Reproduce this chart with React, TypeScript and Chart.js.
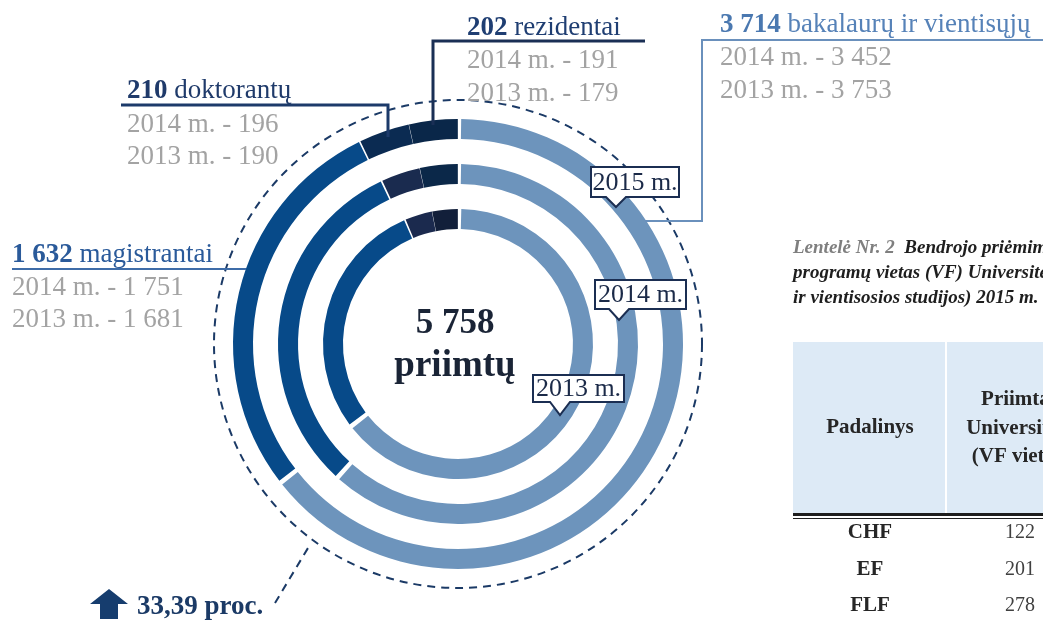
import React, { useEffect, useRef } from 'react';
import { Chart, registerables } from 'chart.js';

Chart.register(...registerables);

// ---- data ----
const categories = ['bakalaurų ir vientisųjų', 'magistrantai', 'doktorantų', 'rezidentai'];
const years = ['2015 m.', '2014 m.', '2013 m.'];
const values2015 = [3714, 1632, 210, 202];
const values2014 = [3452, 1751, 196, 191];
const values2013 = [3753, 1681, 190, 179];
const centerLabel = 'priimtų';
const growthLabel = '33,39 proc.';
const captionLines = [
  'Bendrojo priėmimo metu priimtųjų į valstybės finansuojamų studijų',
  'programų vietas (VF) Universiteto padaliniuose (pirmosios pakopos',
  'ir vientisosios studijos) 2015 m.',
];
const tableHeader = ['Padalinys', ['Priimta į', 'Universitetą', '(VF vietos)']];
const tableRows = ['CHF', 'EF', 'FLF'];
const tableValues = [122, 201, 278];

// ---- styles ----
const ringColors = [
  ['#6D94BC', '#074A89', '#0B2B52', '#0A2749'],
  ['#6D94BC', '#074A89', '#1A2B4F', '#0B2849'],
  ['#6D94BC', '#074A89', '#1B2A4E', '#121F3A'],
];
const SERIF = '"Liberation Serif", "DejaVu Serif", serif';
const GRAY = '#A3A3A3';

const fmt = (n: number) => n.toString().replace(/\B(?=(\d{3})+(?!\d))/g, ' ');
const sum = (a: number[]) => a.reduce((s, v) => s + v, 0);

type Run = { text: string; font: string; color: string };
function drawRuns(ctx: CanvasRenderingContext2D, x: number, y: number, runs: Run[]) {
  let cx = x;
  ctx.textAlign = 'left';
  ctx.textBaseline = 'alphabetic';
  for (const r of runs) {
    ctx.font = r.font;
    ctx.fillStyle = r.color;
    ctx.fillText(r.text, cx, y);
    cx += ctx.measureText(r.text).width;
  }
}

function line(ctx: CanvasRenderingContext2D, pts: number[][], color: string, w: number, dash: number[] = []) {
  ctx.save();
  ctx.strokeStyle = color;
  ctx.lineWidth = w;
  ctx.setLineDash(dash);
  ctx.beginPath();
  pts.forEach((p, i) => (i ? ctx.lineTo(p[0], p[1]) : ctx.moveTo(p[0], p[1])));
  ctx.stroke();
  ctx.restore();
}

function callout(ctx: CanvasRenderingContext2D, x0: number, y0: number, x1: number, y1: number, tx: number, ty: number, label: string) {
  ctx.save();
  ctx.beginPath();
  ctx.moveTo(x0, y0);
  ctx.lineTo(x1, y0);
  ctx.lineTo(x1, y1);
  ctx.lineTo(tx + 10, y1);
  ctx.lineTo(tx, ty);
  ctx.lineTo(tx - 10, y1);
  ctx.lineTo(x0, y1);
  ctx.closePath();
  ctx.fillStyle = '#FFFFFF';
  ctx.fill();
  ctx.strokeStyle = '#1B2E52';
  ctx.lineWidth = 2;
  ctx.stroke();
  ctx.font = `26px ${SERIF}`;
  ctx.fillStyle = '#1B2A48';
  ctx.textAlign = 'center';
  ctx.textBaseline = 'middle';
  ctx.fillText(label, (x0 + x1) / 2, (y0 + y1) / 2 + 1);
  ctx.restore();
}

const annotationPlugin = {
  id: 'annotations',
  afterDraw(chart: any) {
    const ctx: CanvasRenderingContext2D = chart.ctx;
    const arc = chart.getDatasetMeta(0).data[0];
    const cx = arc.x;
    const cy = arc.y;
    const W = chart.width;

    // dashed outer circle
    ctx.save();
    ctx.strokeStyle = '#1B3A66';
    ctx.lineWidth = 2;
    ctx.setLineDash([8, 6]);
    ctx.beginPath();
    ctx.arc(cx, cy, 244, 0, Math.PI * 2);
    ctx.stroke();
    ctx.restore();

    const big = `27px ${SERIF}`;
    const bigBold = `bold 27px ${SERIF}`;

    // rezidentai
    line(ctx, [[433, 125], [433, 41], [645, 41]], '#1A2F55', 3);
    drawRuns(ctx, 467, 35, [
      { text: fmt(values2015[3]) + ' ', font: bigBold, color: '#1F3E72' },
      { text: categories[3], font: big, color: '#1F3E72' },
    ]);
    drawRuns(ctx, 467, 68, [{ text: `${years[1]} - ${fmt(values2014[3])}`, font: big, color: GRAY }]);
    drawRuns(ctx, 467, 101, [{ text: `${years[2]} - ${fmt(values2013[3])}`, font: big, color: GRAY }]);

    // doktorantų
    line(ctx, [[388, 137], [388, 105], [121, 105]], '#1C3A6A', 3);
    drawRuns(ctx, 127, 98, [
      { text: fmt(values2015[2]) + ' ', font: bigBold, color: '#1F3A6A' },
      { text: categories[2], font: big, color: '#1F3A6A' },
    ]);
    drawRuns(ctx, 127, 132, [{ text: `${years[1]} - ${fmt(values2014[2])}`, font: big, color: GRAY }]);
    drawRuns(ctx, 127, 164, [{ text: `${years[2]} - ${fmt(values2013[2])}`, font: big, color: GRAY }]);

    // magistrantai
    line(ctx, [[12, 269], [246, 269]], '#3E6CA8', 2);
    drawRuns(ctx, 12, 262, [
      { text: fmt(values2015[1]) + ' ', font: bigBold, color: '#2A5A9A' },
      { text: categories[1], font: big, color: '#2A5A9A' },
    ]);
    drawRuns(ctx, 12, 295, [{ text: `${years[1]} - ${fmt(values2014[1])}`, font: big, color: GRAY }]);
    drawRuns(ctx, 12, 327, [{ text: `${years[2]} - ${fmt(values2013[1])}`, font: big, color: GRAY }]);

    // bakalaurų
    line(ctx, [[645, 221], [702, 221], [702, 40], [W, 40]], '#6A90BC', 2);
    drawRuns(ctx, 720, 32, [
      { text: fmt(values2015[0]) + ' ', font: bigBold, color: '#4A78B0' },
      { text: categories[0], font: big, color: '#5682B8' },
    ]);
    drawRuns(ctx, 720, 65, [{ text: `${years[1]} - ${fmt(values2014[0])}`, font: big, color: GRAY }]);
    drawRuns(ctx, 720, 98, [{ text: `${years[2]} - ${fmt(values2013[0])}`, font: big, color: GRAY }]);

    // year callouts
    callout(ctx, 591, 167, 679, 197, 616, 207, years[0]);
    callout(ctx, 595, 280, 686, 309, 619, 320, years[1]);
    callout(ctx, 533, 375, 624, 402, 560, 415, years[2]);

    // centre text
    ctx.save();
    ctx.fillStyle = '#1A2436';
    ctx.textAlign = 'center';
    ctx.textBaseline = 'alphabetic';
    ctx.font = `bold 35px ${SERIF}`;
    ctx.fillText(fmt(sum(values2015)), cx - 3, 333);
    ctx.font = `bold 37px ${SERIF}`;
    ctx.fillText(centerLabel, cx - 3, 376);
    ctx.restore();

    // growth
    line(ctx, [[275, 603], [311, 543]], '#1B3A66', 2, [8, 6]);
    ctx.save();
    ctx.fillStyle = '#163D6E';
    ctx.beginPath();
    ctx.moveTo(109, 589);
    ctx.lineTo(128, 604);
    ctx.lineTo(118, 604);
    ctx.lineTo(118, 619);
    ctx.lineTo(100, 619);
    ctx.lineTo(100, 604);
    ctx.lineTo(90, 604);
    ctx.closePath();
    ctx.fill();
    ctx.restore();
    drawRuns(ctx, 137, 614, [{ text: growthLabel, font: `bold 27px ${SERIF}`, color: '#1B3A66' }]);

    // caption
    const capFont = `bold italic 19px ${SERIF}`;
    drawRuns(ctx, 793, 253, [
      { text: 'Lentelė Nr. 2  ', font: `italic 600 19px ${SERIF}`, color: '#7F7F7F' },
      { text: captionLines[0], font: capFont, color: '#1E1E1E' },
    ]);
    drawRuns(ctx, 793, 278, [{ text: captionLines[1], font: capFont, color: '#1E1E1E' }]);
    drawRuns(ctx, 793, 303, [{ text: captionLines[2], font: capFont, color: '#1E1E1E' }]);

    // table
    ctx.save();
    ctx.fillStyle = '#DDEAF6';
    ctx.fillRect(793, 342, W - 793, 171);
    ctx.fillStyle = '#FFFFFF';
    ctx.fillRect(945, 342, 2, 171);
    ctx.fillStyle = '#1E1E1E';
    ctx.fillRect(793, 513, W - 793, 3);
    ctx.fillRect(793, 518, W - 793, 1);
    ctx.textAlign = 'center';
    ctx.textBaseline = 'middle';
    ctx.fillStyle = '#262626';
    ctx.font = `bold 21px ${SERIF}`;
    ctx.fillText(tableHeader[0] as string, 870, 428);
    (tableHeader[1] as string[]).forEach((t, i) => ctx.fillText(t, 1021, 400 + i * 28.5));
    tableRows.forEach((r, i) => {
      const y = 533 + i * 36.5;
      ctx.font = `bold 21px ${SERIF}`;
      ctx.fillStyle = '#262626';
      ctx.fillText(r, 870, y);
      ctx.font = `20px ${SERIF}`;
      ctx.fillStyle = '#404040';
      ctx.fillText(String(tableValues[i]), 1020, y);
    });
    ctx.restore();
  },
};

export default function App() {
  const ref = useRef<HTMLCanvasElement>(null);
  useEffect(() => {
    document.body.style.margin = '0';
    const spacer = { data: [1], backgroundColor: ['rgba(0,0,0,0)'], borderWidth: 0, weight: 25, spacing: 0 };
    const ring = (vals: number[], colors: string[], label: string) => ({
      label,
      data: vals,
      backgroundColor: colors,
      borderWidth: 0,
      spacing: 3,
      weight: 20,
    });
    const chart = new Chart(ref.current!, {
      type: 'doughnut',
      data: {
        labels: categories,
        datasets: [
          ring(values2015, ringColors[0], years[0]),
          spacer,
          ring(values2014, ringColors[1], years[1]),
          spacer,
          ring(values2013, ringColors[2], years[2]),
        ] as any,
      },
      options: {
        animation: false,
        responsive: false,
        events: [],
        radius: 223.5,
        cutout: '50.78%',
        layout: { padding: { left: 233, right: 360, top: 119, bottom: 55 } },
        plugins: { legend: { display: false }, tooltip: { enabled: false }, title: { display: false } },
      } as any,
      plugins: [annotationPlugin],
    });
    return () => chart.destroy();
  }, []);
  return <canvas ref={ref} width={1043} height={624} style={{ display: 'block' }} />;
}
